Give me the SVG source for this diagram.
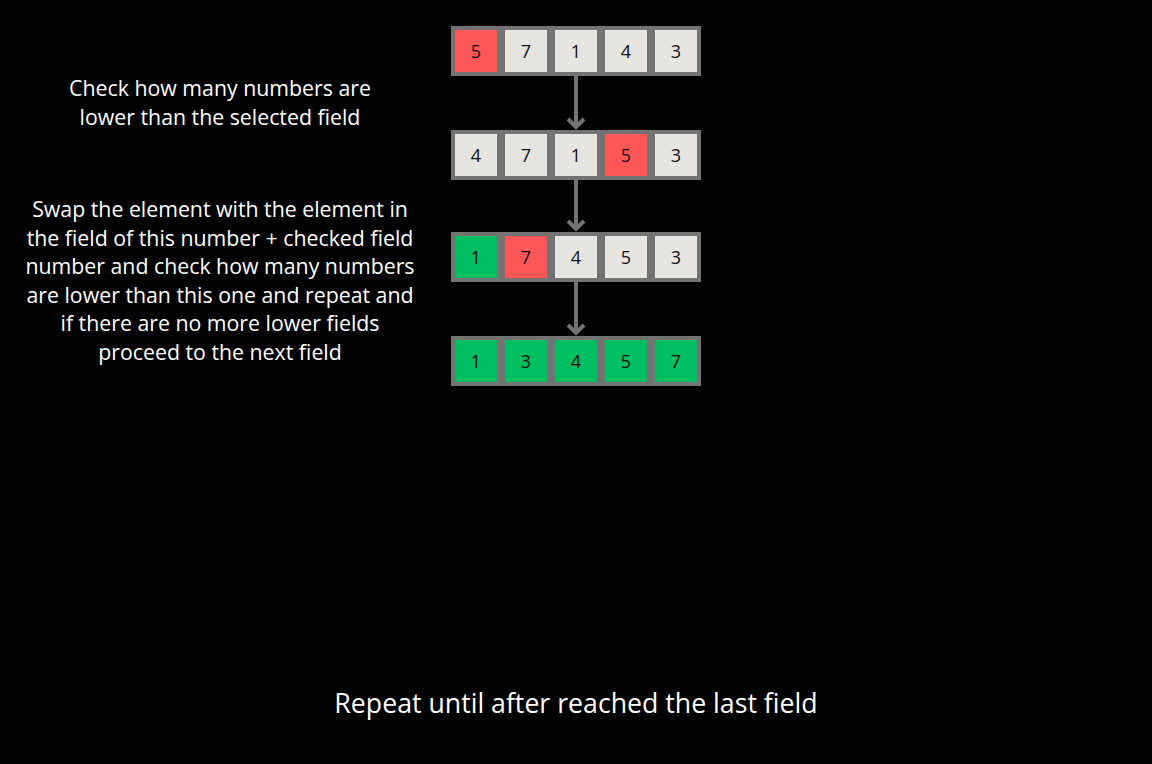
<svg xmlns="http://www.w3.org/2000/svg" width="1152" height="764" viewBox="0 0 1152 764">
<style>
.cell{stroke:#737373;stroke-width:4}
.lt{fill:#e6e5e2}
.rd{fill:#ff5757}
.gr{fill:#00bf63}
.num{font-family:"Open Sans","Liberation Sans",sans-serif;font-size:18px;fill:#111;text-anchor:middle}
.lbl{font-family:"Open Sans","Liberation Sans",sans-serif;font-size:21.3px;fill:#fff;text-anchor:middle}
.conn{stroke:#737373;stroke-width:4;fill:none}
.head{stroke:#737373;stroke-width:4;fill:none;stroke-linecap:butt;stroke-linejoin:miter}
</style>
<rect x="0" y="0" width="1152" height="764" fill="#000"/>
<g id="row1">
<rect class="cell rd" x="453" y="28" width="46" height="46"/><text class="num" x="476" y="57.5">5</text>
<rect class="cell lt" x="503" y="28" width="46" height="46"/><text class="num" x="526" y="57.5">7</text>
<rect class="cell lt" x="553" y="28" width="46" height="46"/><text class="num" x="576" y="57.5">1</text>
<rect class="cell lt" x="603" y="28" width="46" height="46"/><text class="num" x="626" y="57.5">4</text>
<rect class="cell lt" x="653" y="28" width="46" height="46"/><text class="num" x="676" y="57.5">3</text>
</g>
<g id="row2">
<rect class="cell lt" x="453" y="132" width="46" height="46"/><text class="num" x="476" y="161.5">4</text>
<rect class="cell lt" x="503" y="132" width="46" height="46"/><text class="num" x="526" y="161.5">7</text>
<rect class="cell lt" x="553" y="132" width="46" height="46"/><text class="num" x="576" y="161.5">1</text>
<rect class="cell rd" x="603" y="132" width="46" height="46"/><text class="num" x="626" y="161.5">5</text>
<rect class="cell lt" x="653" y="132" width="46" height="46"/><text class="num" x="676" y="161.5">3</text>
</g>
<g id="row3">
<rect class="cell gr" x="453" y="234" width="46" height="46"/><text class="num" x="476" y="263.5">1</text>
<rect class="cell rd" x="503" y="234" width="46" height="46"/><text class="num" x="526" y="263.5">7</text>
<rect class="cell lt" x="553" y="234" width="46" height="46"/><text class="num" x="576" y="263.5">4</text>
<rect class="cell lt" x="603" y="234" width="46" height="46"/><text class="num" x="626" y="263.5">5</text>
<rect class="cell lt" x="653" y="234" width="46" height="46"/><text class="num" x="676" y="263.5">3</text>
</g>
<g id="row4">
<rect class="cell gr" x="453" y="338" width="46" height="46"/><text class="num" x="476" y="367.5">1</text>
<rect class="cell gr" x="503" y="338" width="46" height="46"/><text class="num" x="526" y="367.5">3</text>
<rect class="cell gr" x="553" y="338" width="46" height="46"/><text class="num" x="576" y="367.5">4</text>
<rect class="cell gr" x="603" y="338" width="46" height="46"/><text class="num" x="626" y="367.5">5</text>
<rect class="cell gr" x="653" y="338" width="46" height="46"/><text class="num" x="676" y="367.5">7</text>
</g>
<g id="connectors">
<line class="conn" x1="576" y1="76" x2="576" y2="128"/>
<polyline class="head" points="568,119 576,127 584,119"/>
<line class="conn" x1="576" y1="180" x2="576" y2="230"/>
<polyline class="head" points="568,221 576,229 584,221"/>
<line class="conn" x1="576" y1="282" x2="576" y2="334"/>
<polyline class="head" points="568,325 576,333 584,325"/>
</g>
<g id="label1">
<text class="lbl" x="220" y="96">Check how many numbers are</text>
<text class="lbl" x="220" y="124.5">lower than the selected field</text>
</g>
<g id="label2">
<text class="lbl" x="220" y="217">Swap the element with the element in</text>
<text class="lbl" x="220" y="245.5">the field of this number + checked field</text>
<text class="lbl" x="220" y="274">number and check how many numbers</text>
<text class="lbl" x="220" y="302.5">are lower than this one and repeat and</text>
<text class="lbl" x="220" y="331">if there are no more lower fields</text>
<text class="lbl" x="220" y="359.5">proceed to the next field</text>
</g>
<g id="label3">
<text class="lbl" x="576" y="713" style="font-size:26.7px">Repeat until after reached the last field</text>
</g>
</svg>
